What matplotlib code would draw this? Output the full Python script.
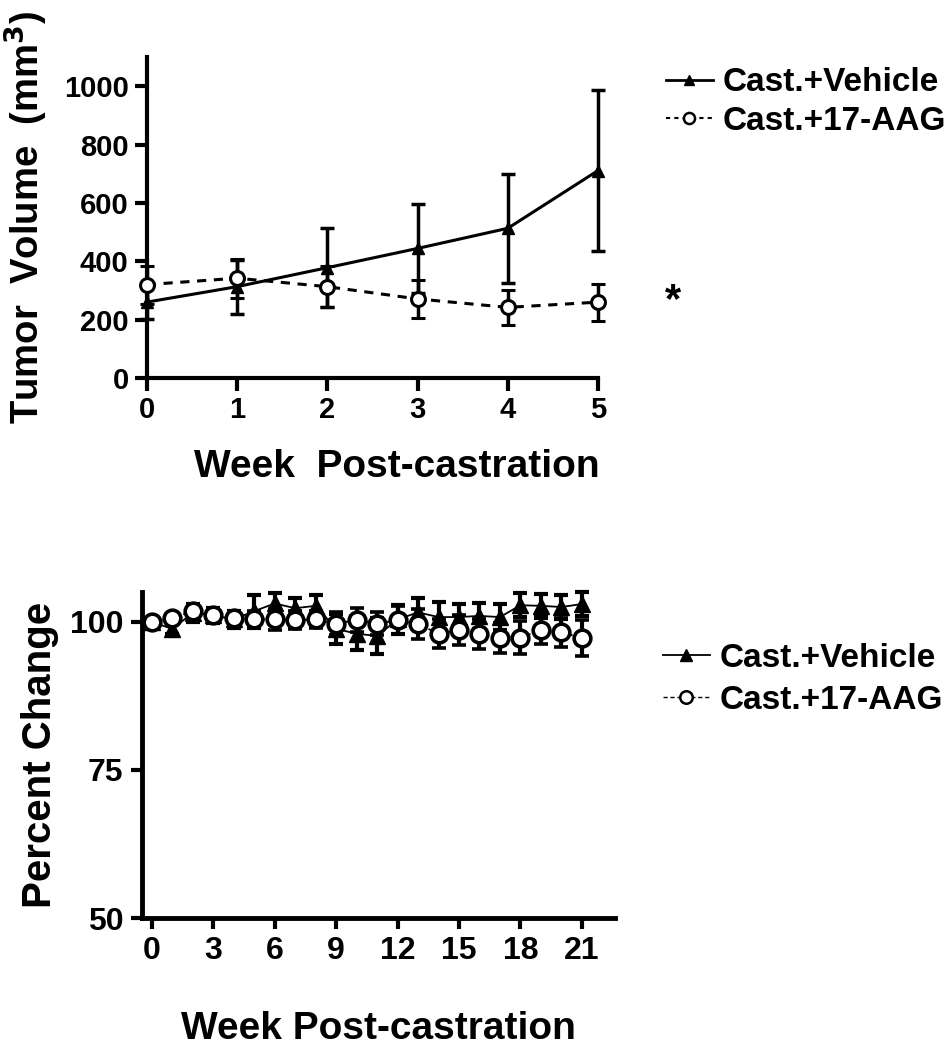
import matplotlib
matplotlib.use("Agg")
import matplotlib.pyplot as plt
from matplotlib.lines import Line2D

plt.rcParams['font.family'] = ['Liberation Sans', 'DejaVu Sans']
plt.rcParams['font.weight'] = 'bold'

# top panel: tumor volume
weeks_top = [0, 1, 2, 3, 4, 5]
veh_vol = [260, 313, 378, 444, 513, 711]
veh_vol_err = [57, 92, 136, 153, 187, 275]
aag_vol = [320, 342, 313, 271, 242, 260]
aag_vol_err = [65, 67, 71, 65, 59, 63]

# bottom panel: percent change
weeks_bot = list(range(22))
veh_pct = [100, 98.8, 101.5, 101.1, 100.4, 101.8, 103.1, 102.3, 102.7, 98.8, 98.0, 97.6,
           100.4, 101.6, 100.8, 100.8, 101.0, 100.8, 102.8, 102.7, 102.5, 103.0]
veh_pct_err = [0.3, 0.8, 1.5, 1.3, 1.5, 2.8, 1.8, 1.8, 1.8, 2.5, 2.7, 3.0,
               2.5, 2.5, 2.5, 2.2, 2.2, 2.2, 2.0, 2.0, 2.0, 2.0]
aag_pct = [100, 100.6, 101.8, 101.2, 100.6, 100.4, 100.4, 100.3, 100.4, 99.7, 100.3, 99.7,
           100.3, 99.6, 98.0, 98.6, 97.9, 97.3, 97.3, 98.6, 98.2, 97.3]
aag_pct_err = [0.3, 0.5, 1.2, 1.2, 1.3, 1.5, 1.8, 1.5, 1.5, 2.0, 2.0, 2.0,
               2.3, 2.5, 2.5, 2.5, 2.5, 2.5, 2.8, 2.3, 2.5, 3.0]

labels = ['Cast.+Vehicle', 'Cast.+17-AAG']

fig = plt.figure(figsize=(9.5, 10.5), dpi=100)

# ---- top chart ----
ax1 = fig.add_axes([0.1545, 0.64, 0.475, 0.3057])
ax1.errorbar(weeks_top, veh_vol, yerr=veh_vol_err, color='black', lw=2.2, marker='^',
             ms=9, capsize=5, capthick=2.5, elinewidth=2.5, clip_on=False, zorder=3)
ax1.errorbar(weeks_top, aag_vol, yerr=aag_vol_err, color='black', lw=2.2, ls=(0, (3, 2.5)),
             marker='o', ms=10, mfc='white', mew=2.2, capsize=5, capthick=2.5,
             elinewidth=2.5, clip_on=False, zorder=3)
ax1.text(5.83, 262, '*', fontsize=30, ha='center', va='center')
ax1.set_xlim(0, 5)
ax1.set_ylim(0, 1100)
ax1.set_xticks(weeks_top)
ax1.set_yticks([0, 200, 400, 600, 800, 1000])
ax1.spines['top'].set_visible(False)
ax1.spines['right'].set_visible(False)
for s in ['left', 'bottom']:
    ax1.spines[s].set_linewidth(3)
ax1.tick_params(width=3, length=9, labelsize=21, pad=4)
ax1.set_xlabel('Week  Post-castration', fontsize=28, fontweight='bold', labelpad=18)
ax1.xaxis.label.set_x(0.555)
ax1.set_ylabel('Tumor  Volume  (mm$^\\mathbf{3}$)', fontsize=27.5, fontweight='bold', labelpad=10)

h_top = [Line2D([], [], color='black', lw=2, marker='^', ms=7),
         Line2D([], [], color='black', lw=1.5, ls=(0, (2, 2)), marker='o', ms=8,
                mfc='white', mew=1.8)]
ax1.legend(h_top, labels, loc='upper left', bbox_to_anchor=(0.701, 0.936),
           bbox_transform=fig.transFigure, frameon=False, fontsize=24,
           handlelength=1.4, handletextpad=0.3, labelspacing=0.22,
           borderpad=0, borderaxespad=0)

# ---- bottom chart ----
ax2 = fig.add_axes([0.149, 0.1257, 0.498, 0.3103])
ax2.errorbar(weeks_bot, veh_pct, yerr=veh_pct_err, color='black', lw=1.3, marker='^',
             ms=11, capsize=5, capthick=3, elinewidth=3, clip_on=False, zorder=3)
ax2.errorbar(weeks_bot, aag_pct, yerr=aag_pct_err, color='black', lw=1.3, ls=(0, (4, 2)),
             marker='o', ms=12, mfc='white', mew=2.6, capsize=5, capthick=3,
             elinewidth=3, clip_on=False, zorder=3)
ax2.set_xlim(-0.5, 22.6)
ax2.set_ylim(50, 105)
ax2.set_xticks(list(range(0, 22, 3)))
ax2.set_yticks([50, 75, 100])
ax2.spines['top'].set_visible(False)
ax2.spines['right'].set_visible(False)
for s in ['left', 'bottom']:
    ax2.spines[s].set_linewidth(3.5)
ax2.tick_params(width=3, length=8, labelsize=23, pad=5)
ax2.set_xlabel('Week Post-castration', fontsize=28, fontweight='bold', labelpad=32)
ax2.set_ylabel('Percent Change', fontsize=29, fontweight='bold', labelpad=8)

h_bot = [Line2D([], [], color='black', lw=1.3, marker='^', ms=8),
         Line2D([], [], color='black', lw=1.0, ls=(0, (3, 2)), marker='o', ms=9,
                mfc='white', mew=1.8)]
ax2.legend(h_bot, labels, loc='upper left', bbox_to_anchor=(0.698, 0.3876),
           bbox_transform=fig.transFigure, frameon=False, fontsize=24,
           handlelength=1.4, handletextpad=0.3, labelspacing=0.32,
           borderpad=0, borderaxespad=0)

fig.savefig('out.png', dpi=100)
